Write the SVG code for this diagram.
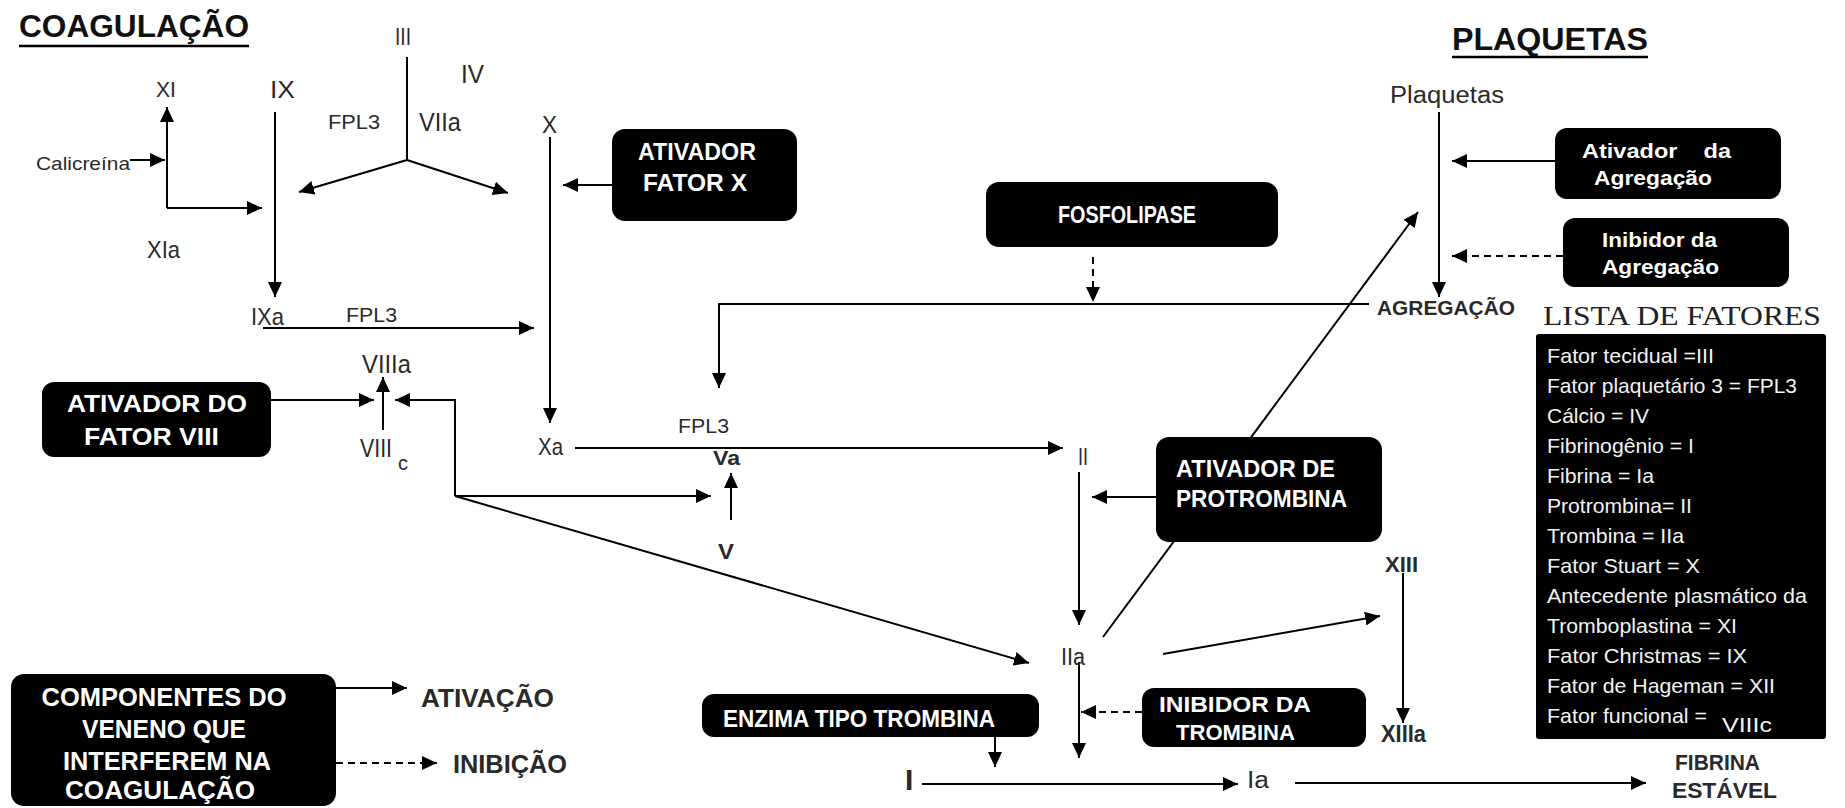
<svg xmlns="http://www.w3.org/2000/svg" width="1845" height="808" viewBox="0 0 1845 808">
<defs>
<marker id="ah" markerUnits="userSpaceOnUse" markerWidth="15" markerHeight="14" refX="15" refY="7" orient="auto" viewBox="0 0 15 14">
<path d="M0,0 L15,7 L0,14 z" fill="#000"/>
</marker>
<style>
.lbl{font-family:"Liberation Sans",Arial,sans-serif;fill:#2a2a2a;}
.b{font-weight:bold;}
.ttl{font-family:"Liberation Sans",Arial,sans-serif;font-weight:bold;fill:#111;}
.box{fill:#000;}
.bt{font-family:"Liberation Sans",Arial,sans-serif;font-weight:bold;fill:#fff;}
.lt{font-family:"Liberation Sans",Arial,sans-serif;fill:#f2f2f2;font-size:21px;}
.ln{stroke:#000;stroke-width:2;fill:none;}
.arr{marker-end:url(#ah);}
.dash{stroke-dasharray:7 5;}
</style>
</defs>
<rect width="1845" height="808" fill="#fff"/>

<g id="connectors">
<path class="ln arr" d="M130,160 H165"/>
<path class="ln arr" d="M167,208 V107"/>
<path class="ln arr" d="M167,208 H262"/>
<path class="ln arr" d="M275,112 V297"/>
<path class="ln" d="M407,57 V160"/>
<path class="ln arr" d="M407,160 L299,192"/>
<path class="ln arr" d="M407,160 L508,193"/>
<path class="ln arr" d="M550,137 V423"/>
<path class="ln arr" d="M612,185 H563"/>
<path class="ln arr" d="M263,328 H534"/>
<path class="ln arr" d="M383,430 V377"/>
<path class="ln arr" d="M271,400 H374"/>
<path class="ln arr" d="M455,496 V400 H395"/>
<path class="ln arr" d="M455,496 H711"/>
<path class="ln arr" d="M455,496 L1029,663"/>
<path class="ln arr" d="M731,520 V473"/>
<path class="ln arr" d="M575,448 H1063"/>
<path class="ln arr" d="M1369,304 H719 V388"/>
<path class="ln arr dash" d="M1093,257 V302"/>
<path class="ln arr" d="M1439,112 V297"/>
<path class="ln arr" d="M1555,161 H1452"/>
<path class="ln arr dash" d="M1563,256 H1452"/>
<path class="ln arr" d="M1079,472 V625"/>
<path class="ln arr" d="M1156,497 H1092"/>
<path class="ln arr" d="M1103,637 L1418,212"/>
<path class="ln arr" d="M1163,654 L1380,616"/>
<path class="ln arr" d="M1403,573 V723"/>
<path class="ln arr" d="M1079,662 V758"/>
<path class="ln arr dash" d="M1142,712 H1081"/>
<path class="ln arr" d="M995,737 V767"/>
<path class="ln arr" d="M922,784 H1238"/>
<path class="ln arr" d="M1295,783 H1646"/>
<path class="ln arr" d="M336,688 H407"/>
<path class="ln arr dash" d="M336,763 H437"/>
</g>

<g id="title-coagulacao">
<text class="ttl" x="19" y="37" font-size="31" textLength="230" lengthAdjust="spacingAndGlyphs">COAGULAÇÃO</text>
<line x1="19" y1="46" x2="249" y2="46" stroke="#000" stroke-width="2.5"/>
</g>
<g id="title-plaquetas">
<text class="ttl" x="1452" y="50" font-size="31" textLength="196" lengthAdjust="spacingAndGlyphs">PLAQUETAS</text>
<line x1="1452" y1="57" x2="1648" y2="57" stroke="#000" stroke-width="2.5"/>
</g>

<g id="n-III"><text class="lbl" x="395" y="45" font-size="23" textLength="16" lengthAdjust="spacingAndGlyphs">III</text></g>
<g id="n-IV"><text class="lbl" x="461" y="83" font-size="25" textLength="23" lengthAdjust="spacingAndGlyphs">IV</text></g>
<g id="n-FPL3a"><text class="lbl" x="328" y="129" font-size="20" textLength="52" lengthAdjust="spacingAndGlyphs">FPL3</text></g>
<g id="n-VIIa"><text class="lbl" x="419" y="131" font-size="25" textLength="42" lengthAdjust="spacingAndGlyphs">VIIa</text></g>
<g id="n-X"><text class="lbl" x="542" y="133" font-size="23" textLength="15" lengthAdjust="spacingAndGlyphs">X</text></g>
<g id="n-XI"><text class="lbl" x="156" y="97" font-size="22" textLength="20" lengthAdjust="spacingAndGlyphs">XI</text></g>
<g id="n-IX"><text class="lbl" x="270" y="98" font-size="23" textLength="25" lengthAdjust="spacingAndGlyphs">IX</text></g>
<g id="n-calicreina"><text class="lbl" x="36" y="170" font-size="19" textLength="94" lengthAdjust="spacingAndGlyphs">Calicreína</text></g>
<g id="n-XIa"><text class="lbl" x="147" y="258" font-size="24" textLength="33" lengthAdjust="spacingAndGlyphs">XIa</text></g>
<g id="n-IXa"><text class="lbl" x="251" y="325" font-size="24" textLength="33" lengthAdjust="spacingAndGlyphs">IXa</text></g>
<g id="n-FPL3b"><text class="lbl" x="346" y="322" font-size="20" textLength="51" lengthAdjust="spacingAndGlyphs">FPL3</text></g>
<g id="n-VIIIa"><text class="lbl" x="362" y="373" font-size="26" textLength="49" lengthAdjust="spacingAndGlyphs">VIIIa</text></g>
<g id="n-VIIIc"><text class="lbl" x="360" y="457" font-size="26" textLength="32" lengthAdjust="spacingAndGlyphs">VIII</text><text class="lbl" x="398" y="470" font-size="20">c</text></g>
<g id="n-Xa"><text class="lbl" x="538" y="455" font-size="24" textLength="25" lengthAdjust="spacingAndGlyphs">Xa</text></g>
<g id="n-FPL3c"><text class="lbl" x="678" y="433" font-size="20" textLength="51" lengthAdjust="spacingAndGlyphs">FPL3</text></g>
<g id="n-Va"><text class="lbl b" x="713" y="465" font-size="21" textLength="27" lengthAdjust="spacingAndGlyphs">Va</text></g>
<g id="n-V"><text class="lbl b" x="718" y="559" font-size="22" textLength="16" lengthAdjust="spacingAndGlyphs">V</text></g>
<g id="n-II"><text class="lbl" x="1078" y="465" font-size="23" textLength="10" lengthAdjust="spacingAndGlyphs">II</text></g>
<g id="n-IIa"><text class="lbl" x="1061" y="665" font-size="23" textLength="24" lengthAdjust="spacingAndGlyphs">IIa</text></g>
<g id="n-XIII"><text class="lbl b" x="1385" y="572" font-size="22" textLength="33" lengthAdjust="spacingAndGlyphs">XIII</text></g>
<g id="n-XIIIa"><text class="lbl b" x="1381" y="742" font-size="23" textLength="45" lengthAdjust="spacingAndGlyphs">XIIIa</text></g>
<g id="n-I"><text class="lbl b" x="905" y="790" font-size="30">I</text></g>
<g id="n-Ia"><text class="lbl" x="1247" y="788" font-size="23" textLength="22" lengthAdjust="spacingAndGlyphs">Ia</text></g>
<g id="n-fibrina-estavel"><text class="lbl b" x="1675" y="770" font-size="22" textLength="85" lengthAdjust="spacingAndGlyphs">FIBRINA</text><text class="lbl b" x="1672" y="798" font-size="22" textLength="105" lengthAdjust="spacingAndGlyphs">ESTÁVEL</text></g>
<g id="n-plaquetas"><text class="lbl" x="1390" y="103" font-size="23" textLength="114" lengthAdjust="spacingAndGlyphs">Plaquetas</text></g>
<g id="n-agregacao"><text class="lbl b" x="1377" y="315" font-size="21" textLength="138" lengthAdjust="spacingAndGlyphs">AGREGAÇÃO</text></g>

<g id="b-ativador-fator-x">
<rect class="box" x="612" y="129" width="185" height="92" rx="13"/>
<text class="bt" x="638" y="160" font-size="24" textLength="118" lengthAdjust="spacingAndGlyphs">ATIVADOR</text>
<text class="bt" x="643" y="191" font-size="24" textLength="104" lengthAdjust="spacingAndGlyphs">FATOR  X</text>
</g>
<g id="b-fosfolipase">
<rect class="box" x="986" y="182" width="292" height="65" rx="13"/>
<text class="bt" x="1058" y="223" font-size="23" textLength="138" lengthAdjust="spacingAndGlyphs">FOSFOLIPASE</text>
</g>
<g id="b-ativador-agregacao">
<rect class="box" x="1555" y="128" width="226" height="71" rx="12"/>
<text class="bt" x="1582" y="158" font-size="21" textLength="149" lengthAdjust="spacingAndGlyphs" xml:space="preserve">Ativador    da</text>
<text class="bt" x="1594" y="185" font-size="21" textLength="118" lengthAdjust="spacingAndGlyphs">Agregação</text>
</g>
<g id="b-inibidor-agregacao">
<rect class="box" x="1563" y="218" width="226" height="69" rx="12"/>
<text class="bt" x="1602" y="247" font-size="21" textLength="115" lengthAdjust="spacingAndGlyphs">Inibidor da</text>
<text class="bt" x="1602" y="274" font-size="21" textLength="117" lengthAdjust="spacingAndGlyphs">Agregação</text>
</g>
<g id="b-ativador-fator-viii">
<rect class="box" x="42" y="382" width="229" height="75" rx="12"/>
<text class="bt" x="67" y="412" font-size="24" textLength="180" lengthAdjust="spacingAndGlyphs">ATIVADOR DO</text>
<text class="bt" x="84" y="445" font-size="24" textLength="135" lengthAdjust="spacingAndGlyphs">FATOR VIII</text>
</g>
<g id="b-ativador-protrombina">
<rect class="box" x="1156" y="437" width="226" height="105" rx="13"/>
<text class="bt" x="1176" y="477" font-size="23" textLength="159" lengthAdjust="spacingAndGlyphs">ATIVADOR  DE</text>
<text class="bt" x="1176" y="507" font-size="23" textLength="171" lengthAdjust="spacingAndGlyphs">PROTROMBINA</text>
</g>
<g id="b-enzima-tipo-trombina">
<rect class="box" x="702" y="694" width="337" height="43" rx="12"/>
<text class="bt" x="723" y="727" font-size="23" textLength="272" lengthAdjust="spacingAndGlyphs">ENZIMA TIPO TROMBINA</text>
</g>
<g id="b-inibidor-trombina">
<rect class="box" x="1142" y="688" width="224" height="59" rx="12"/>
<text class="bt" x="1159" y="712" font-size="22" textLength="152" lengthAdjust="spacingAndGlyphs">INIBIDOR  DA</text>
<text class="bt" x="1176" y="740" font-size="22" textLength="119" lengthAdjust="spacingAndGlyphs">TROMBINA</text>
</g>

<g id="legend">
<rect class="box" x="11" y="674" width="325" height="132" rx="13"/>
<text class="bt" x="164" y="706" font-size="25" text-anchor="middle" textLength="245" lengthAdjust="spacingAndGlyphs">COMPONENTES DO</text>
<text class="bt" x="164" y="738" font-size="25" text-anchor="middle" textLength="164" lengthAdjust="spacingAndGlyphs">VENENO QUE</text>
<text class="bt" x="167" y="770" font-size="25" text-anchor="middle" textLength="208" lengthAdjust="spacingAndGlyphs">INTERFEREM NA</text>
<text class="bt" x="160" y="799" font-size="25" text-anchor="middle" textLength="190" lengthAdjust="spacingAndGlyphs">COAGULAÇÃO</text>
<text class="lbl b" x="421" y="707" font-size="25" textLength="133" lengthAdjust="spacingAndGlyphs">ATIVAÇÃO</text>
<text class="lbl b" x="453" y="773" font-size="25" textLength="114" lengthAdjust="spacingAndGlyphs">INIBIÇÃO</text>
</g>

<g id="lista-de-fatores">
<text x="1543" y="325" font-family="'Liberation Serif','Times New Roman',serif" font-size="27" fill="#222" textLength="278" lengthAdjust="spacingAndGlyphs">LISTA DE FATORES</text>
<rect class="box" x="1536" y="334" width="290" height="405" rx="3"/>
<text class="lt" x="1547" y="363" textLength="167" lengthAdjust="spacingAndGlyphs">Fator tecidual =III</text>
<text class="lt" x="1547" y="393" textLength="250" lengthAdjust="spacingAndGlyphs">Fator plaquetário 3 = FPL3</text>
<text class="lt" x="1547" y="423" textLength="102" lengthAdjust="spacingAndGlyphs">Cálcio = IV</text>
<text class="lt" x="1547" y="453" textLength="147" lengthAdjust="spacingAndGlyphs">Fibrinogênio = I</text>
<text class="lt" x="1547" y="483" textLength="107" lengthAdjust="spacingAndGlyphs">Fibrina = Ia</text>
<text class="lt" x="1547" y="513" textLength="145" lengthAdjust="spacingAndGlyphs">Protrombina= II</text>
<text class="lt" x="1547" y="543" textLength="137" lengthAdjust="spacingAndGlyphs">Trombina = IIa</text>
<text class="lt" x="1547" y="573" textLength="153" lengthAdjust="spacingAndGlyphs">Fator Stuart = X</text>
<text class="lt" x="1547" y="603" textLength="260" lengthAdjust="spacingAndGlyphs">Antecedente plasmático da</text>
<text class="lt" x="1547" y="633" textLength="190" lengthAdjust="spacingAndGlyphs">Tromboplastina = XI</text>
<text class="lt" x="1547" y="663" textLength="200" lengthAdjust="spacingAndGlyphs">Fator Christmas = IX</text>
<text class="lt" x="1547" y="693" textLength="228" lengthAdjust="spacingAndGlyphs">Fator de Hageman = XII</text>
<text class="lt" x="1547" y="723" textLength="160" lengthAdjust="spacingAndGlyphs">Fator funcional =</text>
<text class="lt" x="1722" y="732" font-size="24" textLength="50" lengthAdjust="spacingAndGlyphs">VIIIc</text>
</g>
</svg>
